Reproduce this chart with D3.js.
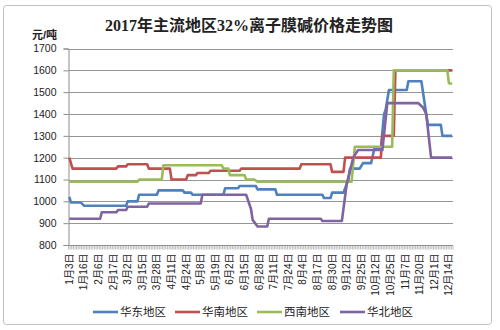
<!DOCTYPE html>
<html>
<head>
<meta charset="utf-8">
<script src="https://cdn.jsdelivr.net/npm/d3@7"></script>
<style>
  body { margin: 0; background: #fff; }
</style>
</head>
<body>
<script>
// x axis: one category per trading day, a label every 9th day
var dayCount = 237;
var labelStep = 9;
var tickLabels = [
  '1月3日', '1月16日', '2月6日', '2月17日', '3月2日', '3月15日', '3月28日',
  '4月11日', '4月24日', '5月8日', '5月19日', '6月2日', '6月15日', '6月28日',
  '7月11日', '7月24日', '8月4日', '8月17日', '8月30日', '9月12日', '9月25日',
  '10月12日', '10月25日', '11月7日', '11月20日', '12月1日', '12月14日'
];
var yTicks = [800, 900, 1000, 1100, 1200, 1300, 1400, 1500, 1600, 1700];

var seriesNames = ['华东地区', '华南地区', '西南地区', '华北地区'];

// [day index, price] at each price change
var east = [
  [0, 1020], [1, 995], [7, 995], [9, 980], [35, 980], [36, 1000], [42, 1000],
  [43, 1030], [54, 1030], [55, 1050], [70, 1050], [71, 1040], [75, 1040],
  [76, 1030], [95, 1030], [96, 1060], [104, 1060], [105, 1070], [115, 1070],
  [116, 1055], [127, 1055], [128, 1030], [156, 1030], [157, 1015], [161, 1015],
  [162, 1040], [169, 1040], [172, 1100], [173, 1150], [179, 1150], [181, 1175],
  [186, 1175], [188, 1240], [192, 1240], [194, 1400], [195, 1420], [197, 1510],
  [208, 1510], [209, 1550], [217, 1550], [221, 1350], [229, 1350], [230, 1300],
  [236, 1300]
];
var south = [
  [0, 1200], [2, 1150], [29, 1150], [30, 1160], [35, 1160], [36, 1170],
  [48, 1170], [49, 1150], [62, 1150], [63, 1100], [72, 1100], [73, 1120],
  [78, 1120], [79, 1130], [86, 1130], [87, 1140], [105, 1140], [106, 1150],
  [142, 1150], [143, 1170], [161, 1170], [162, 1135], [169, 1135], [170, 1200],
  [192, 1200], [193, 1300], [200, 1300], [201, 1600], [236, 1600]
];
var southwest = [
  [0, 1090], [42, 1090], [43, 1100], [57, 1100], [58, 1165], [94, 1165],
  [95, 1150], [98, 1150], [99, 1120], [108, 1120], [109, 1100], [114, 1100],
  [116, 1090], [174, 1090], [176, 1250], [199, 1250], [200, 1600], [233, 1600],
  [234, 1540], [236, 1540]
];
var north = [
  [0, 920], [19, 920], [20, 950], [29, 950], [30, 960], [35, 960], [36, 975],
  [48, 975], [49, 990], [81, 990], [82, 1030], [109, 1030], [112, 965],
  [113, 915], [116, 885], [122, 885], [123, 920], [155, 920], [156, 910],
  [168, 910], [171, 1080], [175, 1200], [178, 1235], [193, 1235], [196, 1450],
  [215, 1450], [218, 1430], [220, 1400], [223, 1200], [236, 1200]
];

var seriesData = [east, south, southwest, north];
var colors = ['#4f81bd', '#c0504d', '#9bbb59', '#8064a2'];

var w = 500, h = 330;
var plotL = 68.5, plotR = 453, plotT = 48.5, plotB = 245;

var sansCJK = "'Liberation Sans', Arial, 'Noto Sans CJK SC', sans-serif";

var svg = d3.select('body').append('svg')
  .attr('width', w)
  .attr('height', h);

// outer frame
svg.append('rect')
  .attr('x', 3.5).attr('y', 5.5)
  .attr('width', 488).attr('height', 319)
  .attr('rx', 3)
  .attr('fill', '#fff')
  .attr('stroke', '#bfbfbf');

var x = d3.scaleBand()
  .domain(d3.range(dayCount))
  .range([plotL, plotR]);

var y = d3.scaleLinear()
  .domain([800, 1700])
  .range([plotB, plotT]);

function cx(i) { return x(i) + x.bandwidth() / 2; }

// gridlines
svg.append('g').selectAll('line')
  .data(yTicks.slice(1))
  .enter()
  .append('line')
    .attr('x1', plotL).attr('x2', plotR)
    .attr('y1', function(d) { return Math.round(y(d)) + 0.5; })
    .attr('y2', function(d) { return Math.round(y(d)) + 0.5; })
    .attr('stroke', '#969696')
    .attr('stroke-width', 1);

// y axis
var yAxis = svg.append('g')
  .attr('transform', 'translate(' + plotL + ',0)')
  .call(d3.axisLeft(y).tickValues(yTicks).tickFormat(d3.format('d'))
    .tickSize(5).tickPadding(7));
yAxis.select('.domain').attr('stroke', '#8c8c8c');
yAxis.selectAll('.tick line').attr('stroke', '#8c8c8c');
yAxis.selectAll('text')
  .style('font-family', sansCJK)
  .style('font-size', '10.5px')
  .attr('fill', '#222');

// x axis: a tick between every two days
var xAxis = svg.append('g')
  .attr('transform', 'translate(0,' + (Math.round(plotB) + 0.5) + ')');
xAxis.append('line')
  .attr('x1', plotL).attr('x2', plotR)
  .attr('stroke', '#8c8c8c');
xAxis.selectAll('.tk')
  .data(d3.range(dayCount + 1))
  .enter()
  .append('line')
    .attr('x1', function(d) { return d < dayCount ? x(d) : plotR; })
    .attr('x2', function(d) { return d < dayCount ? x(d) : plotR; })
    .attr('y1', 0).attr('y2', 4)
    .attr('stroke', '#a0a0a0')
    .attr('stroke-width', 0.7);

xAxis.selectAll('.lbl')
  .data(tickLabels)
  .enter()
  .append('text')
    .text(function(d) { return d; })
    .attr('transform', function(d, i) {
      return 'translate(' + cx(i * labelStep) + ',8) rotate(-90)';
    })
    .attr('text-anchor', 'end')
    .attr('dy', '0.35em')
    .style('font-family', sansCJK)
    .style('font-size', '10px')
    .attr('fill', '#222');

// series
var line = d3.line()
  .x(function(d) { return cx(d[0]); })
  .y(function(d) { return y(d[1]); });

svg.append('g').selectAll('path')
  .data(seriesData)
  .enter()
  .append('path')
    .attr('d', line)
    .attr('fill', 'none')
    .attr('stroke', function(d, i) { return colors[i]; })
    .attr('stroke-width', 2.6)
    .attr('stroke-linejoin', 'round');

// title
svg.append('text')
  .text('2017年主流地区32%离子膜碱价格走势图')
  .attr('x', 249).attr('y', 31)
  .attr('text-anchor', 'middle')
  .style('font-family', "'Liberation Serif', 'Noto Sans CJK SC', serif")
  .style('font-weight', 'bold')
  .style('font-size', '16px')
  .attr('fill', '#222');

// unit
svg.append('text')
  .text('元/吨')
  .attr('x', 32).attr('y', 39)
  .style('font-family', sansCJK)
  .style('font-weight', 'bold')
  .style('font-size', '11px')
  .attr('fill', '#222');

// legend
var legendX = [93, 175, 257, 340];
var legend = svg.append('g').selectAll('g')
  .data(seriesNames)
  .enter()
  .append('g')
    .attr('transform', function(d, i) { return 'translate(' + legendX[i] + ',312)'; });
legend.append('line')
  .attr('x1', 0).attr('x2', 25)
  .attr('stroke', function(d, i) { return colors[i]; })
  .attr('stroke-width', 2.6);
legend.append('text')
  .text(function(d) { return d; })
  .attr('x', 27)
  .attr('dy', '0.38em')
  .style('font-family', sansCJK)
  .style('font-size', '11.5px')
  .attr('fill', '#222');
</script>
</body>
</html>
